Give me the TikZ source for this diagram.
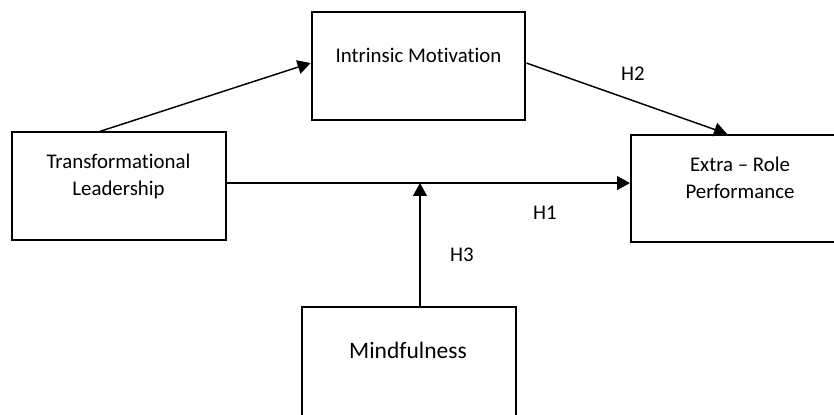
\documentclass[tikz,border=0pt]{standalone}
\usepackage{fontspec}
\setmainfont{Carlito}[Ligatures=NoCommon]
\usetikzlibrary{arrows.meta}
\tikzset{
  varbox/.style={draw=black, line width=1.5pt, minimum width=5.66cm, minimum height=2.84cm, inner sep=0pt},
  boxtext/.style={align=center, font=\fontsize{15.7}{20.3}\selectfont, inner sep=0pt},
  bigtext/.style={align=center, font=\fontsize{17.7}{21.5}\selectfont, inner sep=0pt},
  hyplabel/.style={font=\fontsize{15.7}{19}\selectfont, inner sep=0pt},
  link/.style={line width=1.1pt, draw=black, -{Triangle[length=9.75pt, width=10.5pt]}},
}

\begin{document}
\begin{tikzpicture}
\useasboundingbox (0,0) rectangle (22.066,10.954);
\clip (0,0) rectangle (22.066,10.954);
\node[varbox] (tl) at (3.149,6.032) {};
\node[varbox] (im) at (11.073,9.207) {};
\node[varbox, minimum width=6.2cm] (erp) at (19.795,5.966) {};
\node[varbox, minimum height=3.2cm] (mf) at (10.821,1.231) {};
\node[boxtext] (tltext) at (3.135,6.284) {Transformational\\Leadership};
\node[boxtext] (imtext) at (11.073,9.498) {Intrinsic Motivation};
\node[boxtext] (erptext) at (19.579,6.257) {Extra -- Role\\Performance};
\node[bigtext] (mftext) at (10.795,1.693) {Mindfulness};
\coordinate (path) at ([yshift=0.079cm]tl.east);
\coordinate (mfstart) at ([xshift=0.291cm]mf.north);
\draw[link] ([xshift=-0.503cm]tl.north) -- ([yshift=0.079cm]im.west);
\draw[link] ([yshift=0.079cm]im.east) -- ([xshift=-0.560cm]erp.north);
\draw[link] (path) -- (path -| erp.west);
\draw[link] (mfstart) -- (mfstart |- path);
\node[hyplabel] (h2) at (16.748,8.996) {H2};
\node[hyplabel] (h1) at (14.420,5.318) {H1};
\node[hyplabel] (h3) at (12.224,4.207) {H3};
\end{tikzpicture}
\end{document}
